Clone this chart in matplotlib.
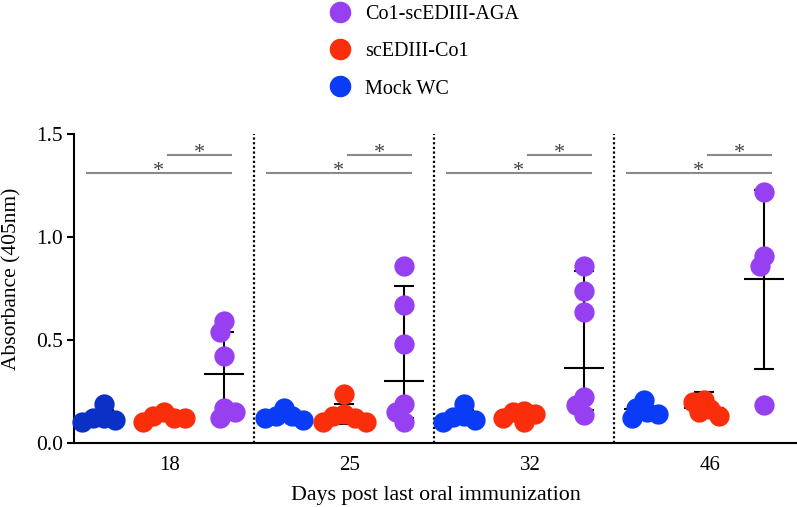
import matplotlib
matplotlib.use('Agg')
import matplotlib.pyplot as plt
from matplotlib.lines import Line2D
import matplotlib.transforms as mtransforms
import numpy as np

# ---------------- data ----------------
days = ['18', '25', '32', '46']
series_names = ['Mock WC', 'scEDIII-Co1', 'Co1-scEDIII-AGA']

mock_wc = [[0.12, 0.11, 0.10, 0.19, 0.12],
           [0.13, 0.12, 0.17, 0.13, 0.11],
           [0.125, 0.10, 0.19, 0.13, 0.11],
           [0.17, 0.12, 0.14, 0.15, 0.21]]
scediii_co1 = [[0.12, 0.10, 0.15, 0.12, 0.13],
               [0.24, 0.14, 0.10, 0.10, 0.12, 0.13],
               [0.12, 0.15, 0.10, 0.155, 0.14],
               [0.20, 0.13, 0.165, 0.21, 0.15]]
co1_aga = [[0.59, 0.54, 0.42, 0.17, 0.15, 0.12],
           [0.86, 0.67, 0.48, 0.19, 0.15, 0.10],
           [0.86, 0.74, 0.635, 0.225, 0.185, 0.135],
           [1.22, 0.91, 0.86, 0.185]]

# centre line and error-bar ends
mock_mid = [0.13, 0.13, 0.13, 0.165]
mock_lo = [0.10, 0.11, 0.10, 0.125]
mock_hi = [0.16, 0.155, 0.16, 0.205]
sc_mid = [0.125, 0.14, 0.13, 0.17]
sc_lo = [0.11, 0.09, 0.11, 0.12]
sc_hi = [0.14, 0.19, 0.15, 0.25]
aga_mid = [0.335, 0.30, 0.365, 0.795]
aga_lo = [0.125, 0.12, 0.16, 0.36]
aga_hi = [0.54, 0.76, 0.835, 1.23]

yticks = [0.0, 0.5, 1.0, 1.5]
ytick_labels = ['0.0', '0.5', '1.0', '1.5']

# ---------------- style ----------------
plt.rcParams['font.family'] = ['Liberation Serif', 'DejaVu Serif']
col_aga = '#9640f2'
col_sc = '#fa2e0a'
col_mock = ['#0b30c6', '#0a3cf8', '#0a3cf8', '#0a3cf8']

W, H = 797, 507
fig = plt.figure(figsize=(W / 100, H / 100), dpi=100)
ax = fig.add_axes([74 / W, (H - 443) / H, (797 - 74) / W, (443 - 134) / H])
XMIN, XMAX = -0.5, 11.55
ax.set_xlim(XMIN, XMAX)
ax.set_ylim(0, 1.5)

px_x = ax.bbox.width / (XMAX - XMIN)
px_y = ax.bbox.height / 1.5


def swarm(values, min_px=11.0, max_px=40):
    """Place points side by side (in pixels) so they overlap only partly."""
    vals = np.asarray(values, dtype=float)
    ys = vals * px_y
    order = np.argsort(-vals, kind='stable')
    placed = []
    offs = np.zeros(len(vals))
    sign = -1
    for i in order:
        cands = [0.0]
        for k in range(1, max_px + 1):
            cands += [sign * k, -sign * k]
        chosen = cands[-1]
        for c in cands:
            if all((c - px) ** 2 + (ys[i] - py) ** 2 >= min_px ** 2 for px, py in placed):
                chosen = c
                break
        if chosen != 0:
            sign = -1 if chosen > 0 else 1
        placed.append((chosen, ys[i]))
        offs[i] = chosen
    return offs / px_x


mean_hw = 20 / px_x
cap_hw = 10 / px_x
lw_bar = 1.5

series = [(mock_wc, mock_mid, mock_lo, mock_hi, None),
          (scediii_co1, sc_mid, sc_lo, sc_hi, col_sc),
          (co1_aga, aga_mid, aga_lo, aga_hi, col_aga)]

for g in range(len(days)):
    for s, (vals, mid, lo, hi, col) in enumerate(series):
        x0 = 3 * g + s
        c = col if col is not None else col_mock[g]
        ax.vlines(x0, lo[g], hi[g], color='black', lw=lw_bar, zorder=2)
        ax.hlines([lo[g], hi[g]], x0 - cap_hw, x0 + cap_hw, color='black', lw=lw_bar, zorder=2)
        ax.hlines(mid[g], x0 - mean_hw, x0 + mean_hw, color='black', lw=lw_bar, zorder=2)
        v = vals[g]
        xs = x0 + swarm(v)
        ax.scatter(xs, v, s=14.6 ** 2, color=c, linewidths=0, zorder=3, clip_on=False)

# dotted dividers between days
ax.vlines([2.5, 5.5, 8.5], 0, 1.5, colors='black', linestyles=(0, (1, 1.1)), lw=1.6, zorder=1)

# significance bars
star_tr = mtransforms.offset_copy(ax.transData, fig=fig, x=0, y=-3.5, units='dots')
for g in range(len(days)):
    b = 3 * g
    for (xa, xb, yy) in [(b - 0.3, b + 2.13, 1.312), (b + 1.05, b + 2.13, 1.40)]:
        ax.hlines(yy, xa, xb, color='#8a8a8a', lw=1.5)
        ax.text((xa + xb) / 2, yy, '*', ha='center', va='baseline', fontsize=16,
                color='#444444', transform=star_tr)

# axes styling
for sp in ['top', 'right']:
    ax.spines[sp].set_visible(False)
ax.spines['left'].set_linewidth(1.5)
ax.spines['bottom'].set_linewidth(1.5)
ax.spines['left'].set_bounds(0, 1.5)
ax.set_yticks(yticks)
ax.set_yticklabels(ytick_labels)
ax.tick_params(axis='y', length=5, width=1.5, labelsize=15.5, pad=3)
ax.set_xticks([3 * g + 1.1 for g in range(len(days))])
ax.set_xticklabels(days)
ax.tick_params(axis='x', length=0, labelsize=15, pad=9)
ax.set_xlabel('Days post last oral immunization', fontsize=15.8, labelpad=8)
ax.set_ylabel('Absorbance (405nm)', fontsize=15.5)
ax.yaxis.set_label_coords(-0.0725, 0.53)

handles = [Line2D([], [], marker='o', ls='', ms=14.5, color=col_aga),
           Line2D([], [], marker='o', ls='', ms=14.5, color=col_sc),
           Line2D([], [], marker='o', ls='', ms=14.5, color=col_mock[1])]
ax.legend(handles, [series_names[2], series_names[1], series_names[0]],
          loc='upper left', bbox_to_anchor=(330 / W, 1.0 - 5 / H), bbox_transform=fig.transFigure,
          frameon=False, fontsize=14.5, handlelength=1.0, handletextpad=0.75,
          labelspacing=0.9, borderpad=0, borderaxespad=0)

fig.savefig('out.png', dpi=100)
